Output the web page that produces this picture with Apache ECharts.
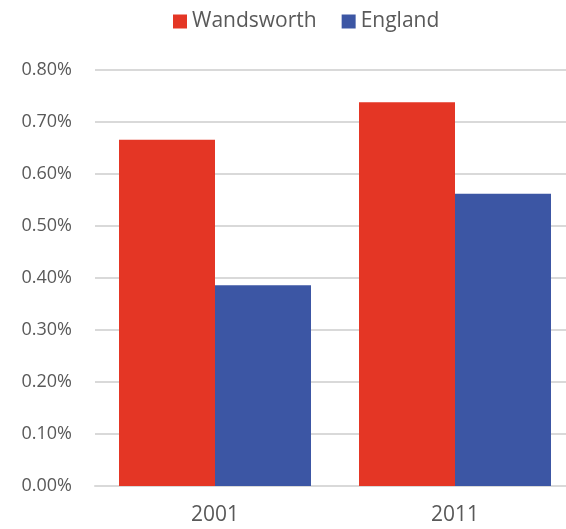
<!DOCTYPE html>
<html>
<head>
<meta charset="utf-8">
<script src="https://cdn.jsdelivr.net/npm/echarts@6/dist/echarts.min.js"></script>
<style>
  html, body { margin: 0; padding: 0; background: #fff; }
  #chart { width: 566px; height: 529px; }
</style>
</head>
<body>
<div id="chart"></div>
<script>
const years = ['2001', '2011']
const wandsworth = [0.666, 0.738]
const england = [0.386, 0.562]
const yTicks = [0, 0.1, 0.2, 0.3, 0.4, 0.5, 0.6, 0.7, 0.8]

const myChart = echarts.init(document.getElementById('chart'))

const font = '"Open Sans", sans-serif'

let option = {
  animation: false,
  textStyle: { fontFamily: font },
  legend: {
    data: ['Wandsworth', 'England'],
    left: 168,
    top: 6,
    itemWidth: 14,
    itemHeight: 14,
    itemGap: 25,
    icon: 'rect',
    textStyle: { fontSize: 21, color: '#595959', fontFamily: font }
  },
  // plot area runs a little past the right edge, as in the original
  grid: { left: 95, top: 70, right: -9, bottom: 43, containLabel: false, outerBoundsMode: 'none' },
  xAxis: {
    type: 'category',
    data: years,
    axisTick: { show: false },
    axisLine: { lineStyle: { color: '#d9d9d9', width: 2 } },
    axisLabel: { fontSize: 21, color: '#595959', margin: 19, fontFamily: font }
  },
  yAxis: {
    type: 'value',
    min: yTicks[0],
    max: yTicks[yTicks.length - 1],
    interval: 0.1,
    axisLine: { show: false },
    axisTick: { show: false },
    splitLine: { lineStyle: { color: '#d9d9d9', width: 2 } },
    axisLabel: {
      fontSize: 18,
      color: '#595959',
      margin: 23,
      fontFamily: font,
      formatter: v => v.toFixed(2) + '%'
    }
  },
  series: [
    {
      name: 'Wandsworth',
      type: 'bar',
      data: wandsworth,
      itemStyle: { color: '#e43625' },
      barGap: '0%',
      barCategoryGap: '20%'
    },
    {
      name: 'England',
      type: 'bar',
      data: england,
      itemStyle: { color: '#3c56a4' }
    }
  ]
}

myChart.setOption(option)
</script>
</body>
</html>
